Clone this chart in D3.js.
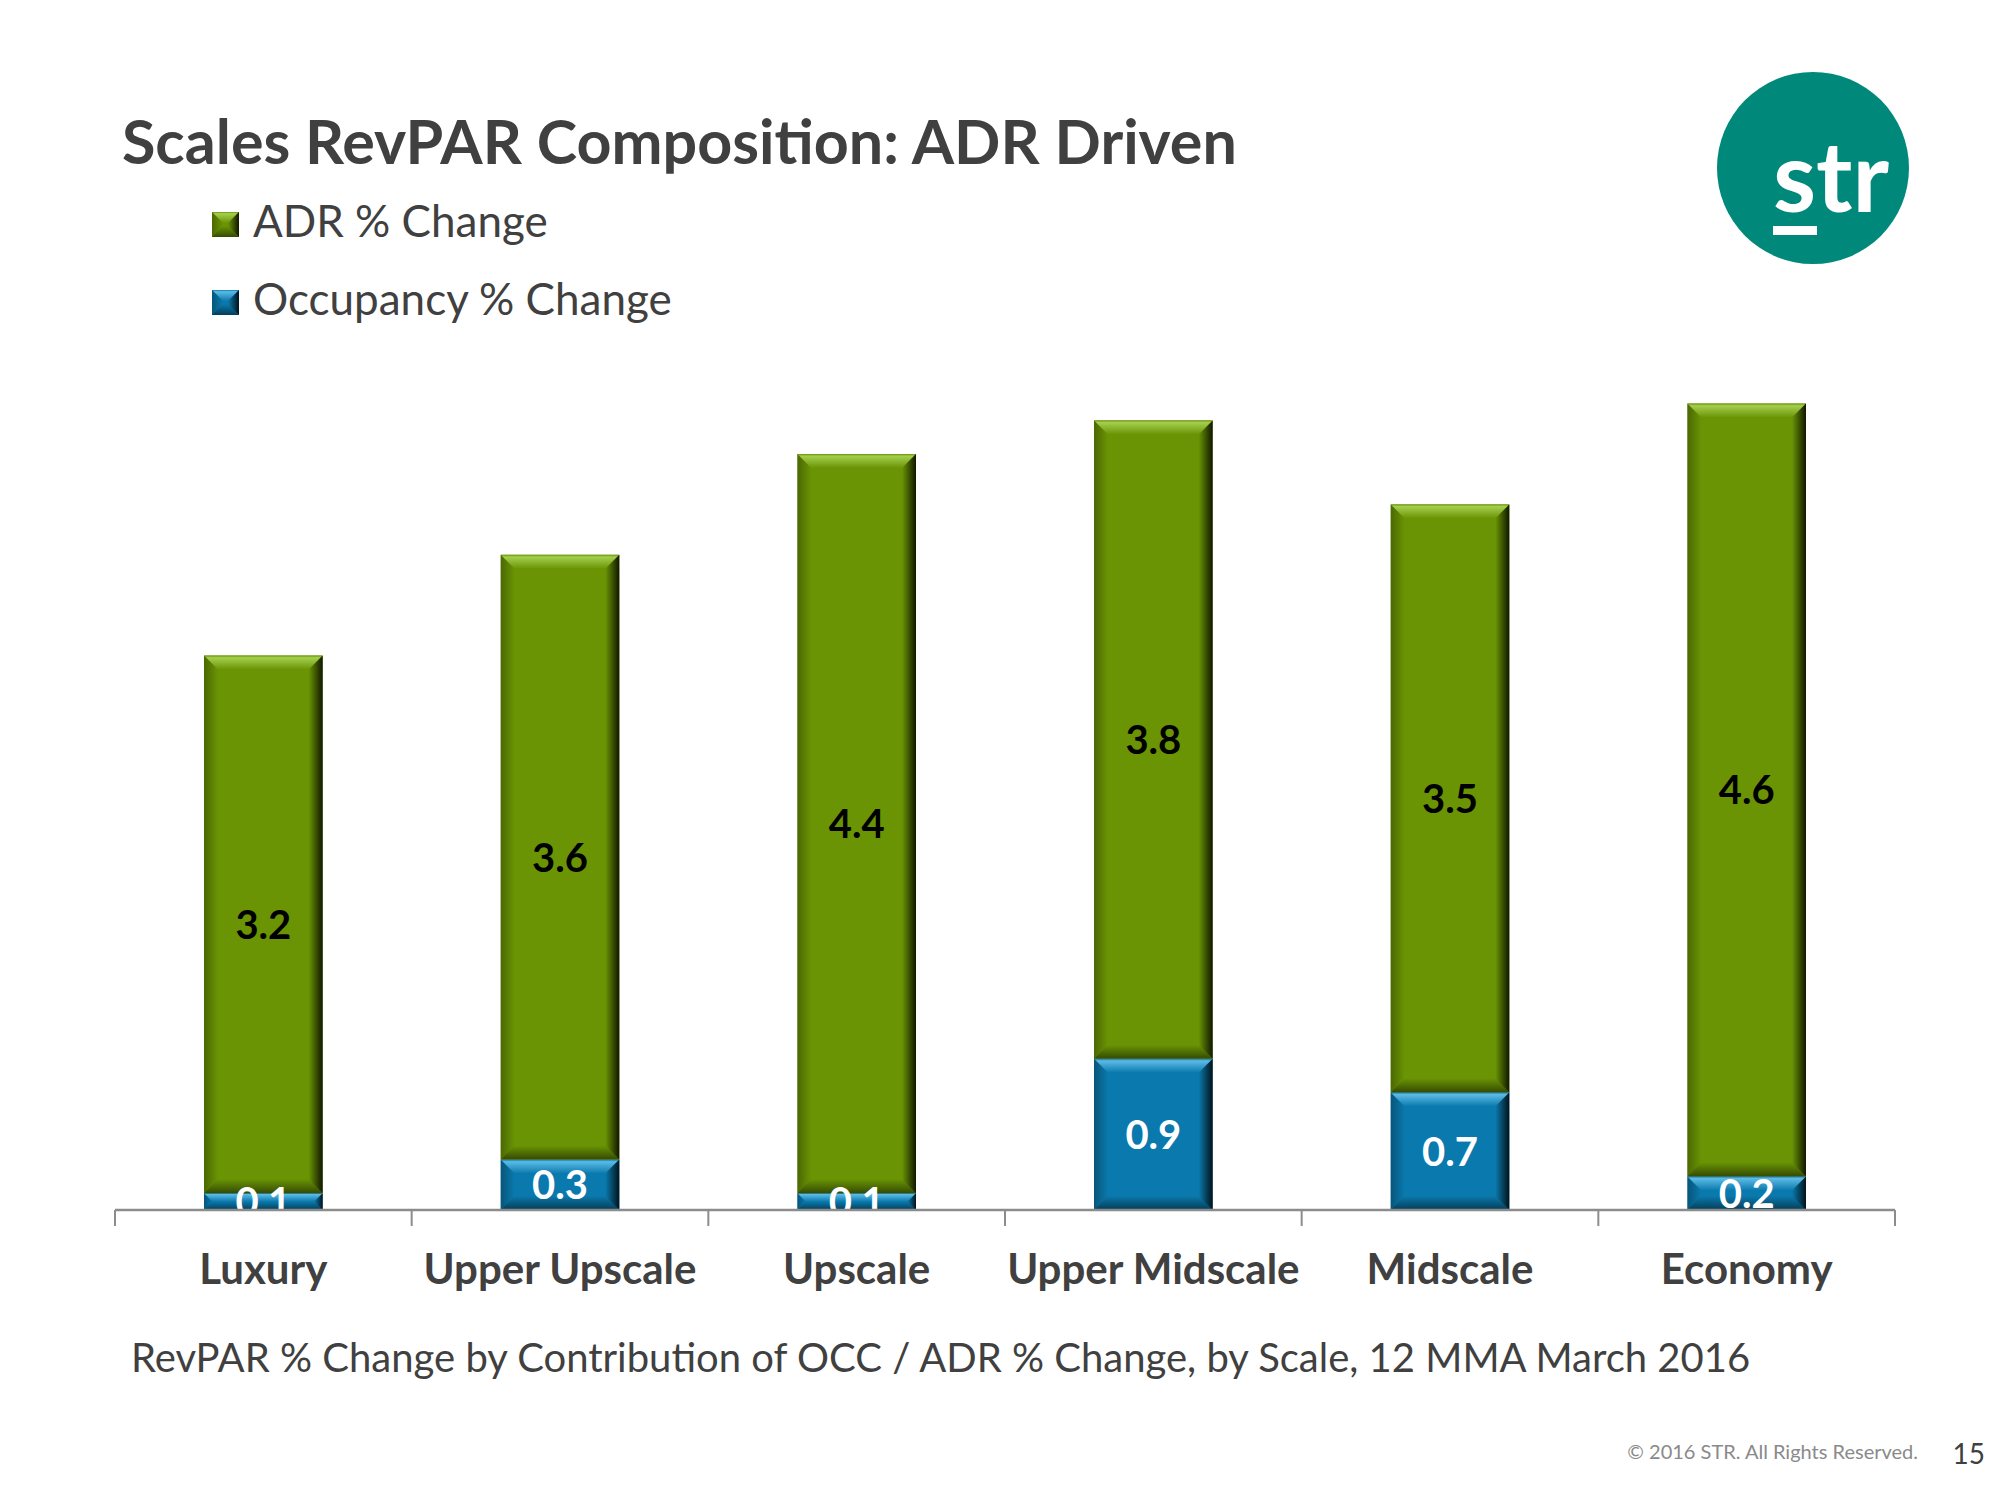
<!DOCTYPE html>
<html>
<head>
<meta charset="utf-8">
<title>Scales RevPAR Composition</title>
<script src="https://d3js.org/d3.v7.min.js"></script>
<style>
  body {margin: 0; background: #fff;}
  text {font-family: Lato, "Noto Sans", sans-serif;}
</style>
</head>
<body>
<div id="chart"></div>
<script>
// data
var categories = ["Luxury", "Upper Upscale", "Upscale", "Upper Midscale", "Midscale", "Economy"];
var occChange = [0.1, 0.3, 0.1, 0.9, 0.7, 0.2];
var adrChange = [3.2, 3.6, 4.4, 3.8, 3.5, 4.6];
var seriesKeys = ["occ", "adr"];
var legendNames = ["ADR % Change", "Occupancy % Change"];
var yDomain = [0, 5];

var width = 2000, height = 1500;
var plot = {left: 115, right: 1895, top: 370, bottom: 1210};

var colors = {
  adr: {base: "#6a9404", light: "#a4cf4e", label: "#000"},
  occ: {base: "#0a79ad", light: "#5cbbe6", label: "#fff"}
};

var svg = d3.select("#chart").append("svg")
  .attr("width", width)
  .attr("height", height);

var defs = svg.append("defs");
function grad(id, x2, y2, stops) {
  var g = defs.append("linearGradient").attr("id", id)
    .attr("x1", 0).attr("y1", 0).attr("x2", x2).attr("y2", y2);
  stops.forEach(function(s) {
    g.append("stop").attr("offset", s[0]).attr("stop-color", s[1]).attr("stop-opacity", s[2]);
  });
}
seriesKeys.forEach(function(k) {
  grad("top-" + k, 0, 1, [[0, colors[k].base, 1], [0.15, colors[k].light, 1], [1, colors[k].base, 1]]);
});
grad("right", 1, 0, [[0, "#000", 0], [1, "#000", 0.85]]);
grad("left", 1, 0, [[0, "#000", 0.3], [1, "#000", 0]]);
grad("bottom", 0, 1, [[0, "#000", 0], [1, "#000", 0.5]]);

defs.append("clipPath").attr("id", "plotClip")
  .append("rect")
  .attr("x", 0).attr("y", 0)
  .attr("width", width).attr("height", plot.bottom);

// scales
var x = d3.scaleBand()
  .domain(categories)
  .range([plot.left, plot.right])
  .paddingInner(0.6)
  .paddingOuter(0.3);

var y = d3.scaleLinear()
  .domain(yDomain)
  .range([plot.bottom, plot.top]);

var rows = categories.map(function(c, i) {
  return {cat: c, occ: occChange[i], adr: adrChange[i]};
});
var stacked = d3.stack().keys(seriesKeys)(rows);

// excel style bevelled block
function bevel(g, x0, y0, w, h, key, b) {
  b = Math.min(b, h / 2, w / 2);
  var x1 = x0 + w, y1 = y0 + h;
  g.append("rect")
    .attr("x", x0).attr("y", y0).attr("width", w).attr("height", h)
    .attr("fill", colors[key].base);
  var poly = function(pts, fill) {
    g.append("polygon")
      .attr("points", pts.map(function(p) { return p.join(","); }).join(" "))
      .attr("fill", fill);
  };
  poly([[x0, y0], [x1, y0], [x1 - b, y0 + b], [x0 + b, y0 + b]], "url(#top-" + key + ")");
  poly([[x0, y1], [x1, y1], [x1 - b, y1 - b], [x0 + b, y1 - b]], "url(#bottom)");
  poly([[x0, y0], [x0 + b, y0 + b], [x0 + b, y1 - b], [x0, y1]], "url(#left)");
  poly([[x1, y0], [x1 - b, y0 + b], [x1 - b, y1 - b], [x1, y1]], "url(#right)");
}

// bars
var barsG = svg.append("g");
stacked.forEach(function(layer) {
  layer.forEach(function(d) {
    var g = barsG.append("g");
    bevel(g, x(d.data.cat), y(d[1]), x.bandwidth(), y(d[0]) - y(d[1]), layer.key, 14);
  });
});

// value labels
var labelsG = svg.append("g").attr("clip-path", "url(#plotClip)");
stacked.forEach(function(layer) {
  labelsG.selectAll(null)
    .data(layer)
    .enter()
    .append("text")
      .attr("x", function(d) { return x(d.data.cat) + x.bandwidth() / 2; })
      .attr("y", function(d) { return y((d[0] + d[1]) / 2); })
      .attr("dy", "0.36em")
      .attr("text-anchor", "middle")
      .style("font-size", "40px")
      .style("font-weight", "bold")
      .attr("fill", colors[layer.key].label)
      .text(function(d) { return d3.format(".1f")(d.data[layer.key]); });
});

// category axis: line, ticks between categories
var step = x.step();
var bounds = categories.map(function(c) { return x(c) + x.bandwidth() / 2 - step / 2; });
bounds.push(bounds[bounds.length - 1] + step);
var axisG = svg.append("g");
axisG.append("line")
  .attr("x1", plot.left).attr("x2", plot.right)
  .attr("y1", plot.bottom).attr("y2", plot.bottom)
  .attr("stroke", "#8c8c8c").attr("stroke-width", 2.5);
axisG.selectAll(".tick")
  .data(bounds)
  .enter()
  .append("line")
    .attr("x1", function(d) { return d; }).attr("x2", function(d) { return d; })
    .attr("y1", plot.bottom).attr("y2", plot.bottom + 16)
    .attr("stroke", "#8c8c8c").attr("stroke-width", 2);
axisG.selectAll(".cat")
  .data(categories)
  .enter()
  .append("text")
    .attr("x", function(d) { return x(d) + x.bandwidth() / 2; })
    .attr("y", 1284)
    .attr("text-anchor", "middle")
    .style("font-size", "42px")
    .style("font-weight", "bold")
    .attr("fill", "#404040")
    .text(function(d) { return d; });

// title
svg.append("text")
  .attr("x", 122).attr("y", 164)
  .style("font-size", "61px")
  .style("font-weight", "bold")
  .attr("fill", "#404040")
  .text("Scales RevPAR Composition: ADR Driven");

// legend
var legendKeys = ["adr", "occ"];
legendKeys.forEach(function(k, i) {
  var ly = 237 + i * 78;
  var g = svg.append("g");
  bevel(g, 212, ly - 25, 27, 25, k, 11);
  svg.append("text")
    .attr("x", 253).attr("y", ly)
    .style("font-size", "44px")
    .attr("fill", "#404040")
    .text(legendNames[i]);
});

// subtitle
svg.append("text")
  .attr("x", 131).attr("y", 1372)
  .style("font-size", "40px")
  .attr("fill", "#404040")
  .text("RevPAR % Change by Contribution of OCC / ADR % Change, by Scale, 12 MMA March 2016");

// footer
svg.append("text")
  .attr("x", 1918).attr("y", 1459)
  .attr("text-anchor", "end")
  .style("font-size", "20px")
  .attr("fill", "#8a8a8a")
  .text("\u00a9 2016 STR. All Rights Reserved.");
svg.append("text")
  .attr("x", 1985).attr("y", 1464)
  .attr("text-anchor", "end")
  .style("font-size", "28px")
  .attr("fill", "#404040")
  .text("15");

// logo
var logo = svg.append("g").attr("transform", "translate(1813,168)");
logo.append("circle").attr("r", 96).attr("fill", "#00897a");
logo.append("text")
  .attr("x", -40).attr("y", 44)
  .style("font-size", "98px")
  .style("font-weight", "bold")
  .attr("fill", "#fff")
  .text("str");
logo.append("rect")
  .attr("x", -40).attr("y", 58).attr("width", 44).attr("height", 9)
  .attr("fill", "#fff");
</script>
</body>
</html>
